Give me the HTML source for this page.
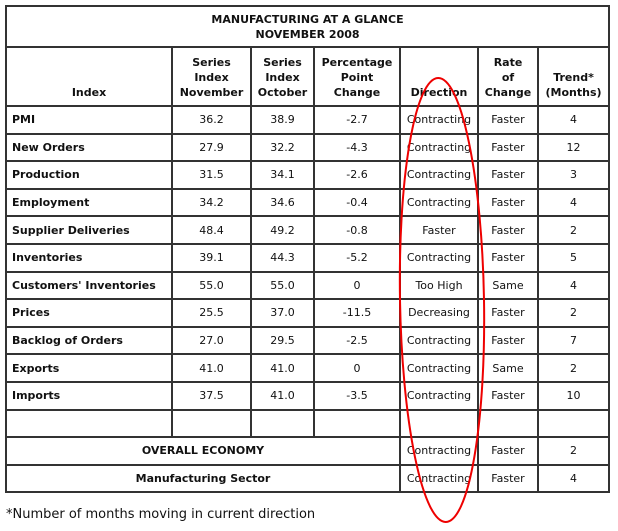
<!DOCTYPE html>
<html><head><meta charset="utf-8"><style>
body{margin:0;background:#fff;width:618px;height:531px;position:relative;overflow:hidden;font-family:"DejaVu Sans",Verdana,sans-serif;font-size:11px;color:#111}
table{position:absolute;left:5px;top:5px;border-collapse:collapse;table-layout:fixed;width:603px}
td{border:2px solid #333;text-align:center;padding:0;height:25.6px;line-height:15px;font-size:11px}
.h td{font-weight:bold;vertical-align:bottom;padding-bottom:5px}
td.l{text-align:left;padding-left:5px;font-weight:bold}
td.b{font-weight:bold}
.fn{position:absolute;left:6px;top:507px;font-size:13px;color:#111}
svg{position:absolute;left:0;top:0}
</style></head><body>
<table>
<colgroup><col style="width:166px"><col style="width:79px"><col style="width:63px"><col style="width:86px"><col style="width:78px"><col style="width:60px"><col style="width:71px"></colgroup>
<tr><td colspan="7" class="b" style="height:39px;line-height:15px">MANUFACTURING AT A GLANCE<br>NOVEMBER 2008</td></tr>
<tr class="h"><td style="height:52px">Index</td><td>Series<br>Index<br>November</td><td>Series<br>Index<br>October</td><td>Percentage<br>Point<br>Change</td><td>Direction</td><td>Rate<br>of<br>Change</td><td>Trend*<br>(Months)</td></tr>
<tr><td class="l">PMI</td><td>36.2</td><td>38.9</td><td>-2.7</td><td>Contracting</td><td>Faster</td><td>4</td></tr>
<tr><td class="l">New Orders</td><td>27.9</td><td>32.2</td><td>-4.3</td><td>Contracting</td><td>Faster</td><td>12</td></tr>
<tr><td class="l">Production</td><td>31.5</td><td>34.1</td><td>-2.6</td><td>Contracting</td><td>Faster</td><td>3</td></tr>
<tr><td class="l">Employment</td><td>34.2</td><td>34.6</td><td>-0.4</td><td>Contracting</td><td>Faster</td><td>4</td></tr>
<tr><td class="l">Supplier Deliveries</td><td>48.4</td><td>49.2</td><td>-0.8</td><td>Faster</td><td>Faster</td><td>2</td></tr>
<tr><td class="l">Inventories</td><td>39.1</td><td>44.3</td><td>-5.2</td><td>Contracting</td><td>Faster</td><td>5</td></tr>
<tr><td class="l">Customers' Inventories</td><td>55.0</td><td>55.0</td><td>0</td><td>Too High</td><td>Same</td><td>4</td></tr>
<tr><td class="l">Prices</td><td>25.5</td><td>37.0</td><td>-11.5</td><td>Decreasing</td><td>Faster</td><td>2</td></tr>
<tr><td class="l">Backlog of Orders</td><td>27.0</td><td>29.5</td><td>-2.5</td><td>Contracting</td><td>Faster</td><td>7</td></tr>
<tr><td class="l">Exports</td><td>41.0</td><td>41.0</td><td>0</td><td>Contracting</td><td>Same</td><td>2</td></tr>
<tr><td class="l">Imports</td><td>37.5</td><td>41.0</td><td>-3.5</td><td>Contracting</td><td>Faster</td><td>10</td></tr>
<tr><td>&nbsp;</td><td></td><td></td><td></td><td></td><td></td><td></td></tr>
<tr><td colspan="4" class="b">OVERALL ECONOMY</td><td>Contracting</td><td>Faster</td><td>2</td></tr>
<tr><td colspan="4" class="b">Manufacturing Sector</td><td>Contracting</td><td>Faster</td><td>4</td></tr>
</table>
<div class="fn">*Number of months moving in current direction</div>
<svg width="618" height="531"><ellipse cx="442" cy="300" rx="42" ry="222" fill="none" stroke="#e00" stroke-width="2" transform="rotate(-1 442 300)"/></svg>
</body></html>
